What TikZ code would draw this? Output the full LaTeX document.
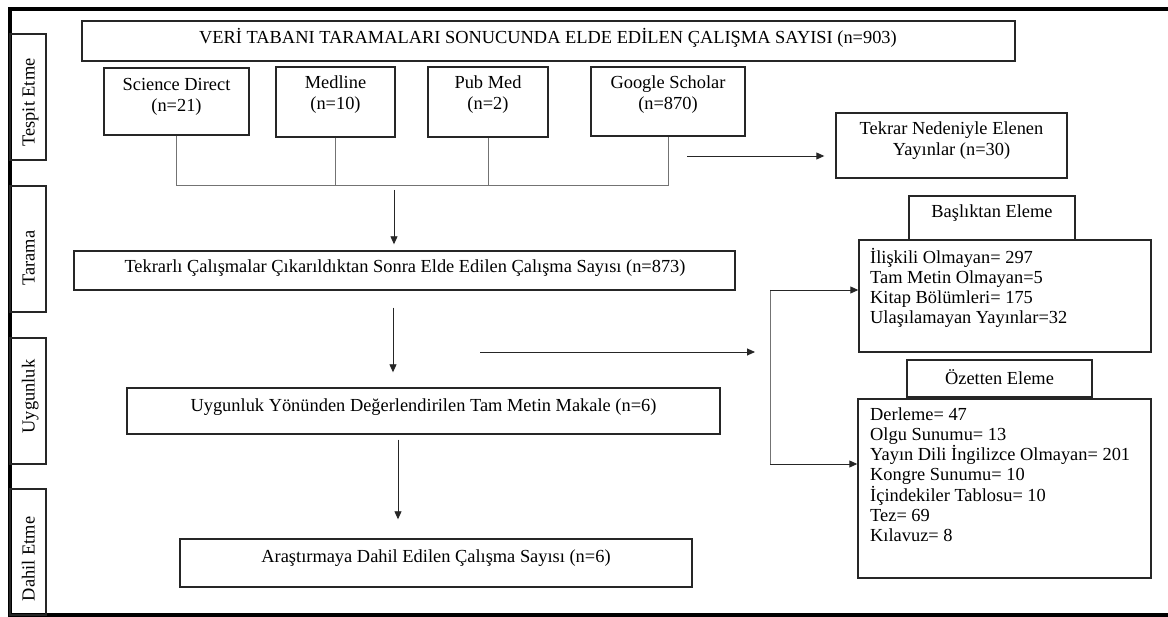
\documentclass[tikz,border=0pt]{standalone}
\usepackage{fontspec}
\setmainfont{Liberation Serif}
\usetikzlibrary{arrows.meta}
\begin{document}
\begin{tikzpicture}[x=1pt,y=-1pt,
  box/.style={draw=black!85, line width=1.4pt, inner sep=0pt},
  phase/.style={draw=black!85, line width=1.2pt, inner sep=0pt, minimum width=36, minimum height=126},
  txt/.style={font=\fontsize{18.4}{21}\selectfont, inner sep=0pt, align=center},
  ltxt/.style={font=\fontsize{18.4}{20.2}\selectfont, inner sep=0pt, align=left, anchor=north west},
  ptxt/.style={font=\fontsize{18.4}{20}\selectfont, inner sep=0pt, rotate=90, anchor=base},
  src/.style={draw=black!55, line width=0.8pt},
  lin/.style={draw=black!55, line width=0.9pt},
  arr/.style={draw=black!85, line width=0.9pt, -{Triangle[length=8pt,width=7pt]}}
]
\useasboundingbox (0,0) rectangle (1168,617);
\fill[white] (0,0) rectangle (1168,617);
% outer frame
\draw[line width=4pt, black] (1175,9.5) -- (9.5,9.5) -- (9.5,615) -- (1175,615);

% phase boxes
\node[phase] (p1) at (28,97) {};
\node[phase] (p2) at (28,249) {};
\node[phase] (p3) at (28,401) {};
\node[phase] (p4) at (28,552) {};
\node[ptxt] (p1t) at (34.5,102.5) {Tespit Etme};
\node[ptxt] (p2t) at (34.5,258) {Tarama};
\node[ptxt] (p3t) at (34.5,396.5) {Uygunluk};
\node[ptxt] (p4t) at (34.5,559) {Dahil Etme};

% top box
\node[box, minimum width=933, minimum height=40] (top) at (548.5,41) {};
\node[txt] (topt) at (548,38) {VERİ TABANI TARAMALARI SONUCUNDA ELDE EDİLEN ÇALIŞMA SAYISI (n=903)};

% sources
\node[box, minimum width=145, minimum height=67] (sd) at (176.5,101.5) {};
\node[txt] (sdt) at (176.5,96.5) {Science Direct\\(n=21)};
\node[box, minimum width=119, minimum height=70] (ml) at (335.5,102) {};
\node[txt] (mlt) at (335.5,94.5) {Medline\\(n=10)};
\node[box, minimum width=120, minimum height=70] (pm) at (488,102) {};
\node[txt] (pmt) at (488,94.5) {Pub Med\\(n=2)};
\node[box, minimum width=154, minimum height=69] (gs) at (668,101.5) {};
\node[txt] (gst) at (668,94.5) {Google Scholar\\(n=870)};

\coordinate (jy) at (0,185);
\draw[src] (sd.south) -- (sd.south |- jy) -- (gs.south |- jy) -- (gs.south);
\draw[src] (ml.south) -- (ml.south |- jy);
\draw[src] (pm.south) -- (pm.south |- jy);

% duplicates removed box
\node[box, minimum width=231, minimum height=65] (tek) at (951.5,145.5) {};
\node[txt] (tekt) at (951.5,141) {Tekrar Nedeniyle Elenen\\Yayınlar (n=30)};
\coordinate (a1) at (687,156);
\draw[arr, shorten >=11pt] (a1) -- (a1 -| tek.west);

% screening box
\node[box, minimum width=661, minimum height=39] (tr) at (404.5,270.5) {};
\node[txt] (trt) at (405,268) {Tekrarlı Çalışmalar Çıkarıldıktan Sonra Elde Edilen Çalışma Sayısı (n=873)};
\coordinate (c1) at (394,0);
\draw[arr, shorten <=5pt, shorten >=6pt] (c1 |- jy) -- (c1 |- tr.north);

% eligibility box
\node[box, minimum width=593, minimum height=46] (uy) at (423.5,411) {};
\node[txt] (uyt) at (423.5,407) {Uygunluk Yönünden Değerlendirilen Tam Metin Makale (n=6)};
\coordinate (c2) at (393,0);
\draw[arr, shorten <=17pt, shorten >=15pt] (c2 |- tr.south) -- (c2 |- uy.north);

% included box
\node[box, minimum width=512, minimum height=48] (ar) at (436,563) {};
\node[txt] (art) at (436,558) {Araştırmaya Dahil Edilen Çalışma Sayısı (n=6)};
\coordinate (c3) at (398,0);
\draw[arr, shorten <=5pt, shorten >=19pt] (c3 |- uy.south) -- (c3 |- ar.north);

% title screening
\node[box, minimum width=166, minimum height=44] (bas) at (992,218) {};
\node[txt] (bast) at (992,213) {Başlıktan Eleme};
\node[box, minimum width=292, minimum height=112] (il) at (1005,296) {};
\node[ltxt] (ilt) at (870,246) {\rule{0pt}{17pt}İlişkili Olmayan= 297\\Tam Metin Olmayan=5\\Kitap Bölümleri= 175\\Ulaşılamayan Yayınlar=32};

% abstract screening
\node[box, minimum width=185, minimum height=37] (oz) at (999.5,378.5) {};
\node[txt] (ozt) at (999.5,377) {Özetten Eleme};
\node[box, minimum width=293, minimum height=179] (de) at (1004.5,488.5) {};
\node[ltxt] (det) at (870,403) {\rule{0pt}{17pt}Derleme= 47\\Olgu Sunumu= 13\\Yayın Dili İngilizce Olmayan= 201\\Kongre Sunumu= 10\\İçindekiler Tablosu= 10\\Tez= 69\\Kılavuz= 8};

% exclusion arrows
\coordinate (h1) at (480,352);
\coordinate (h2) at (755,352);
\draw[arr] (h1) -- (h2);
\coordinate (b1) at (770,290);
\coordinate (b2) at (770,464);
\draw[lin] (b1) -- (b2);
\draw[arr] (b1) -- (b1 -| il.west);
\draw[arr] (b2) -- (b2 -| de.west);
\end{tikzpicture}
\end{document}
